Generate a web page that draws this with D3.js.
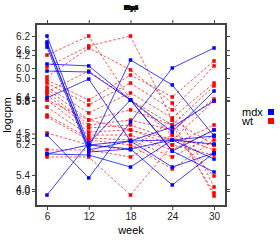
<!DOCTYPE html>
<html>
<head>
<meta charset="utf-8">
<script src="https://cdn.jsdelivr.net/npm/d3@7"></script>
<style>
  body { margin: 0; background: #fff; }
  svg { font-family: "Liberation Sans", Arial, sans-serif; }
</style>
</head>
<body>
<div class="canvas"></div>
<script>
// weeks on x
const weeks = [6, 12, 18, 24, 30];

// overlaid panels (lattice drew them on top of each other)
const panelNames = ['Ibsp', 'Bgn', 'Tb4', 'lBp4'];
const panelDomains = [[5.1375, 6.275], [5.936, 6.711], [3.847, 5.487], [5.232, 6.216], [3.697, 4.303]];
const panelTicks = [[6.2, 6.0, 5.8], [6.6, 6.4, 6.2, 6.0], [5.0, 4.5, 4.0], [5.8, 5.6, 5.4], [4.2]];

const groups = ['mdx', 'wt'];

// logcpm per animal, weeks 6..30
const mdx = [
  [6.200, 5.519, 5.544, 5.381, 5.469],
  [6.163, 5.488, 5.544, 5.631, 5.794],
  [6.150, 5.500, 6.050, 5.894, 5.575],
  [6.131, 5.475, 5.494, 5.269, 5.469],
  [6.025, 6.013, 5.800, 5.600, 5.856],
  [5.981, 5.975, 5.800, 5.481, 5.350],
  [5.813, 5.931, 5.544, 5.550, 5.431],
  [5.581, 5.313, 5.663, 6.000, 6.125],
  [5.463, 5.456, 5.381, 5.550, 5.575],
  [5.463, 5.519, 5.494, 5.550, 5.525],
  [5.206, 5.531, 5.800, 5.481, 5.613]
];
const wt = [
  [6.081, 6.200, 5.800, 5.581, 5.325],
  [6.006, 6.138, 6.200, 5.675, 5.200],
  [5.944, 6.125, 5.988, 5.781, 5.256],
  [5.925, 5.800, 5.956, 5.819, 6.044],
  [5.906, 5.769, 5.906, 5.738, 6.013],
  [5.881, 5.719, 5.844, 5.688, 5.906],
  [5.869, 5.675, 5.738, 5.644, 5.888],
  [5.850, 5.644, 5.675, 5.613, 5.806],
  [5.831, 5.625, 5.644, 5.550, 5.794],
  [5.800, 5.600, 5.613, 5.519, 5.644],
  [5.756, 5.581, 5.581, 5.488, 5.613],
  [5.706, 5.563, 5.550, 5.444, 5.581],
  [5.694, 5.550, 5.519, 5.369, 5.550],
  [5.594, 5.519, 5.488, 5.675, 5.519],
  [5.488, 5.488, 5.444, 5.581, 5.488],
  [5.444, 5.444, 5.206, 5.519, 5.456],
  [5.850, 5.981, 5.800, 5.644, 5.219],
  [5.800, 5.675, 5.613, 5.550, 5.519]
];

const colors = { mdx: '#0000ff', wt: '#ff0000' };

const dims = { width: 280, height: 240 };
const box = { left: 36, right: 226, top: 24, bottom: 206 };

const svg = d3.select('.canvas')
    .append('svg')
    .attr('width', dims.width)
    .attr('height', dims.height);

const x = d3.scaleLinear()
    .domain([4.42, 31.72])
    .range([box.left, box.right]);

const yScales = panelDomains.map(d => d3.scaleLinear().domain(d).range([box.bottom, box.top]));
const y = yScales[0];

// panel titles, all in the same strip
svg.append('g').selectAll('text')
    .data(panelNames)
    .enter().append('text')
    .attr('x', (box.left + box.right) / 2)
    .attr('y', 10)
    .attr('text-anchor', 'middle')
    .attr('font-size', 7)
    .attr('font-weight', 'bold')
    .text(d => d);

// y axes, left with labels, right ticks only
yScales.forEach((s, i) => {
    svg.append('g')
        .attr('transform', `translate(${box.left},0)`)
        .call(d3.axisLeft(s).tickValues(panelTicks[i]).tickSize(4).tickPadding(2).tickFormat(d3.format('.1f')))
        .call(g => g.select('.domain').remove());
    svg.append('g')
        .attr('transform', `translate(${box.right},0)`)
        .call(d3.axisRight(s).tickValues(panelTicks[i]).tickSize(4).tickFormat(''))
        .call(g => g.select('.domain').remove());
});

svg.append('g')
    .attr('transform', `translate(0,${box.bottom})`)
    .call(d3.axisBottom(x).tickValues(weeks).tickSize(4).tickPadding(3))
    .call(g => g.select('.domain').remove());
svg.append('g')
    .attr('transform', `translate(0,${box.top})`)
    .call(d3.axisTop(x).tickValues(weeks).tickSize(4).tickFormat(''))
    .call(g => g.select('.domain').remove());

svg.selectAll('.tick text').attr('font-size', 10).attr('fill', '#222').attr('font-family', 'Liberation Sans, Arial, sans-serif');
svg.selectAll('.tick line').attr('stroke', '#444');

const line = d3.line()
    .x((d, i) => x(weeks[i]))
    .y(d => y(d));

const plot = svg.append('g');

const drawGroup = (rows, key) => {
    const g = plot.append('g');
    g.selectAll('path')
        .data(rows)
        .enter().append('path')
        .attr('d', line)
        .attr('fill', 'none')
        .attr('stroke', colors[key])
        .attr('stroke-opacity', key == 'wt' ? 0.7 : 0.75)
        .attr('stroke-width', 1)
        .attr('stroke-dasharray', key == 'wt' ? '2.5,2' : null);
    const pts = rows.flatMap(r => r.map((v, i) => ({ w: weeks[i], v })));
    g.selectAll('rect')
        .data(pts)
        .enter().append('rect')
        .attr('x', d => x(d.w) - 1.75)
        .attr('y', d => y(d.v) - 1.75)
        .attr('width', 3.5)
        .attr('height', 3.5)
        .attr('fill', colors[key]);
};
drawGroup(wt, 'wt');
drawGroup(mdx, 'mdx');

// frame
svg.append('rect')
    .attr('x', box.left)
    .attr('y', box.top)
    .attr('width', box.right - box.left)
    .attr('height', box.bottom - box.top)
    .attr('fill', 'none')
    .attr('stroke', '#444')
    .attr('stroke-width', 2);

svg.append('text')
    .attr('x', (box.left + box.right) / 2)
    .attr('y', 234)
    .attr('text-anchor', 'middle')
    .attr('font-size', 11)
    .text('week');

svg.append('text')
    .attr('transform', `translate(11,${(box.top + box.bottom) / 2}) rotate(-90)`)
    .attr('text-anchor', 'middle')
    .attr('font-size', 11)
    .text('logcpm');

// legend
const legend = svg.append('g')
    .attr('transform', 'translate(242,112)');
legend.selectAll('text')
    .data(groups)
    .enter().append('text')
    .attr('x', 0)
    .attr('y', (d, i) => i * 9)
    .attr('dy', '0.35em')
    .attr('font-size', 11)
    .text(d => d);
legend.selectAll('rect')
    .data(groups)
    .enter().append('rect')
    .attr('x', 26)
    .attr('y', (d, i) => i * 9 - 3)
    .attr('width', 6)
    .attr('height', 6)
    .attr('fill', d => colors[d]);
</script>
</body>
</html>
